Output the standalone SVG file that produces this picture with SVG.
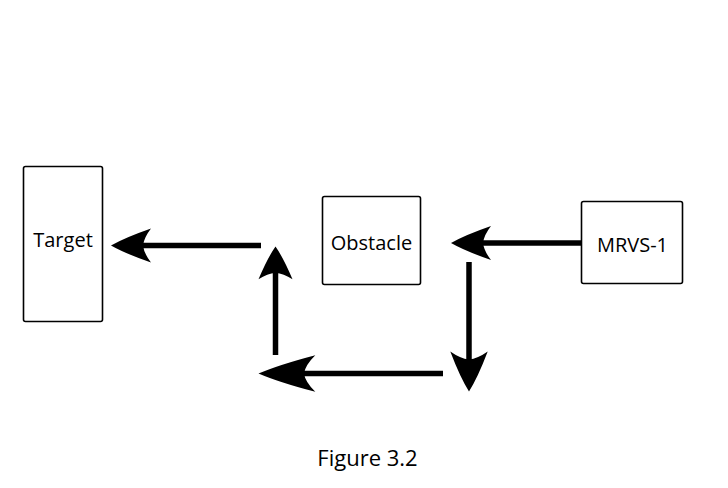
<svg xmlns="http://www.w3.org/2000/svg" xmlns:xlink="http://www.w3.org/1999/xlink" width="728" height="488" viewBox="0 0 728 488">
<style>
.box{fill:#fff;stroke:#000;stroke-width:1.6}
.lbl{font-family:"Open Sans","Noto Sans","DejaVu Sans",sans-serif;font-size:20px;fill:#000;text-anchor:middle}
.cap{font-family:"Open Sans","Noto Sans","DejaVu Sans",sans-serif;font-size:22px;fill:#000;text-anchor:middle}
.shaft{stroke:#000;stroke-width:5.5;fill:none}
.head{fill:#000}
</style>
<defs>
<path id="head" d="M0,0 Q14,-8 40,-17 Q33,-8 32,0 Q33,8 40,17 Q14,8 0,0 Z"/>
</defs>
<rect width="728" height="488" fill="#fff"/>
<g id="target">
<rect class="box" x="23.5" y="166.5" width="79" height="155" rx="2"/>
<text class="lbl" x="63" y="247">Target</text>
</g>
<g id="obstacle">
<rect class="box" x="322.5" y="196.5" width="98" height="88" rx="2"/>
<text class="lbl" x="371.5" y="250">Obstacle</text>
</g>
<g id="mrvs1">
<rect class="box" x="581.5" y="201.5" width="101" height="82" rx="2"/>
<text class="lbl" x="632.5" y="251.5">MRVS-1</text>
</g>
<g id="connectors">
<line class="shaft" x1="261" y1="245.5" x2="142" y2="245.5"/>
<use class="head" xlink:href="#head" transform="translate(111,245.5)"/>
<line class="shaft" x1="275.5" y1="355" x2="275.5" y2="272"/>
<use class="head" xlink:href="#head" transform="translate(275.5,246.5) rotate(90) scale(0.82,1)"/>
<line class="shaft" x1="443" y1="373.5" x2="302" y2="373.5"/>
<use class="head" xlink:href="#head" transform="translate(258.5,373.5) scale(1.42,1.08)"/>
<line class="shaft" x1="581" y1="243" x2="482" y2="243"/>
<use class="head" xlink:href="#head" transform="translate(451,243)"/>
<line class="shaft" x1="469" y1="262" x2="469" y2="361"/>
<use class="head" xlink:href="#head" transform="translate(469,391.5) rotate(-90) scale(1,1.1)"/>
</g>
<text class="cap" x="367.5" y="466">Figure 3.2</text>
</svg>
